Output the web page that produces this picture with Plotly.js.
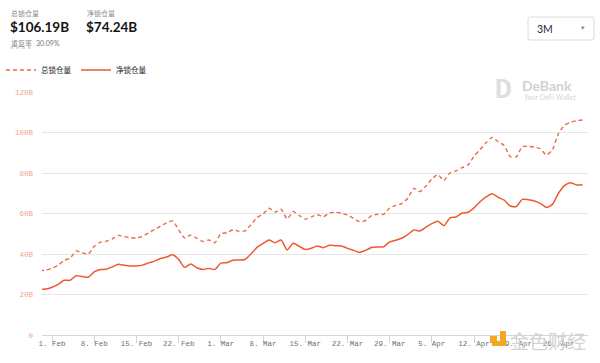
<!DOCTYPE html>
<html>
<head>
<meta charset="utf-8">
<script src="https://cdn.plot.ly/plotly-3.0.1.min.js"></script>
<style>
  html, body { margin: 0; padding: 0; background: #fff; }
  #chart { width: 600px; height: 363px; }
</style>
</head>
<body>
<div id="chart"></div>
<script>
// ---- data (daily, starting 2021-01-30) ----
const startDate = '2021-01-30';
const totalLocked = [
  31.8, 32.1, 33.0, 34.4, 36.8, 37.9, 41.5, 40.6, 40.0, 43.8,
  45.8, 46.3, 47.5, 49.2, 48.6, 48.0, 47.9, 48.8, 50.4, 52.1,
  53.8, 55.4, 56.3, 52.0, 47.9, 49.3, 47.8, 46.2, 46.9, 45.6,
  50.0, 50.5, 52.0, 51.2, 51.4, 54.5, 58.0, 59.7, 62.6, 60.7,
  62.1, 57.3, 61.0, 59.0, 57.2, 58.3, 59.4, 58.4, 60.3, 60.6,
  60.2, 59.2, 57.6, 56.0, 56.5, 59.0, 59.6, 59.6, 62.7, 64.0,
  64.9, 67.5, 72.4, 70.8, 73.5, 77.0, 79.2, 76.3, 80.0, 81.0,
  82.6, 84.0, 88.3, 91.5, 95.0, 97.6, 95.4, 93.6, 88.1, 88.0,
  93.0, 93.1, 92.8, 92.0, 88.9, 91.5, 99.5, 103.5, 105.0, 105.8,
  106.19
];
const netLocked = [
  22.6, 22.7, 23.6, 25.0, 27.0, 27.0, 29.3, 28.9, 28.5, 31.2,
  32.3, 32.5, 33.6, 34.9, 34.4, 34.1, 34.1, 34.5, 35.6, 36.5,
  37.8, 38.5, 39.6, 37.3, 33.4, 35.1, 33.2, 32.4, 32.9, 32.4,
  35.5, 35.7, 36.9, 37.0, 37.3, 40.0, 43.3, 45.2, 46.9, 45.6,
  46.9, 42.0, 45.3, 43.8, 42.2, 42.8, 44.0, 43.1, 44.3, 44.1,
  44.0, 42.8, 41.8, 40.8, 41.8, 43.2, 43.5, 43.6, 46.0, 46.8,
  47.8, 49.6, 51.9, 51.4, 53.2, 55.0, 56.2, 54.0, 57.8, 58.3,
  60.1, 60.6, 62.8, 65.8, 68.2, 69.8, 68.0, 66.6, 63.7, 63.4,
  67.0, 66.8, 66.2, 65.0, 63.0, 64.5, 70.0, 73.8, 75.2, 74.1,
  74.24
];
const tickDates = ['2021-02-01','2021-02-08','2021-02-15','2021-02-22','2021-03-01','2021-03-08',
  '2021-03-15','2021-03-22','2021-03-29','2021-04-05','2021-04-12','2021-04-19','2021-04-26'];
const tickLabels = ['1. Feb','8. Feb','15. Feb','22. Feb','1. Mar','8. Mar',
  '15. Mar','22. Mar','29. Mar','5. Apr','12. Apr','19. Apr','26. Apr'];
const yTickVals = [0, 20, 40, 60, 80, 100, 120];
const yTickLabels = ['0', '20B', '40B', '60B', '80B', '100B', '120B'];
const seriesNames = ['总锁仓量', '净锁仓量'];

// build daily date strings
const dates = [];
{
  const d0 = new Date(startDate + 'T00:00:00Z');
  for (let i = 0; i < totalLocked.length; i++) {
    const d = new Date(d0.getTime() + i * 86400000);
    dates.push(d.toISOString().slice(0, 10));
  }
}

// ---- layout helpers (pixel -> paper) ----
const W = 600, H = 363, L = 42, R = 12, T = 92, B = 28;
const PW = W - L - R, PH = H - T - B;
const px = x => (x - L) / PW;
const py = y => (H - B - y) / PH;

const CJK = '"Noto Sans CJK SC", "Noto Sans", sans-serif';

const traces = [
  {
    x: dates, y: totalLocked, name: seriesNames[0], type: 'scatter', mode: 'lines',
    line: { color: '#ee6a47', width: 1.4, dash: '4px,3px', shape: 'spline', smoothing: 0.6 },
    hoverinfo: 'skip'
  },
  {
    x: dates, y: netLocked, name: seriesNames[1], type: 'scatter', mode: 'lines',
    line: { color: '#ee5a2e', width: 1.5, shape: 'spline', smoothing: 0.6 },
    hoverinfo: 'skip'
  }
];

const ann = (text, x, y, opts) => Object.assign({
  text, xref: 'paper', yref: 'paper', x: px(x), y: py(y),
  xanchor: 'left', yanchor: 'middle', showarrow: false, borderpad: 0
}, opts);

const layout = {
  width: W, height: H,
  margin: { l: L, r: R, t: T, b: B, pad: 0, autoexpand: false },
  paper_bgcolor: '#ffffff', plot_bgcolor: '#ffffff',
  showlegend: true,
  legend: {
    orientation: 'h', xref: 'container', yref: 'container',
    x: 1 / W, y: (H - 70) / H, xanchor: 'left', yanchor: 'middle',
    font: { family: CJK, size: 7.5, color: '#222' },
    entrywidth: 30, entrywidthmode: 'pixels',
    itemwidth: 30, tracegroupgap: 0, bgcolor: 'rgba(0,0,0,0)', borderwidth: 0
  },
  xaxis: {
    type: 'date',
    range: ['2021-01-30 08:00', '2021-04-30 21:40'],
    tickmode: 'array', tickvals: tickDates, ticktext: tickLabels,
    showgrid: false, zeroline: false,
    showline: true, linecolor: '#ccd6eb', linewidth: 1,
    ticks: 'outside', ticklen: 7, tickcolor: '#ccd6eb', tickwidth: 1,
    ticklabelstandoff: -6,
    tickfont: { family: '"Liberation Mono", monospace', size: 7.5, color: '#707070' },
    fixedrange: true, automargin: false
  },
  yaxis: {
    range: [0, 120],
    tickmode: 'array', tickvals: yTickVals, ticktext: yTickLabels,
    showgrid: true, gridcolor: '#e6e6e6', gridwidth: 1,
    zeroline: false, showline: false, ticks: '',
    ticklabelstandoff: 8,
    tickfont: { family: '"Liberation Mono", monospace', size: 7.5, color: '#f2a58e' },
    fixedrange: true, automargin: false
  },
  shapes: [
    // dropdown box
    { type: 'path', xref: 'paper', yref: 'paper',
      path: `M ${px(530)} ${py(17)} L ${px(592)} ${py(17)} Q ${px(594)} ${py(17)} ${px(594)} ${py(19)} L ${px(594)} ${py(38)} Q ${px(594)} ${py(40)} ${px(592)} ${py(40)} L ${px(530)} ${py(40)} Q ${px(528)} ${py(40)} ${px(528)} ${py(38)} L ${px(528)} ${py(19)} Q ${px(528)} ${py(17)} ${px(530)} ${py(17)} Z`,
      line: { color: '#dcdcdc', width: 1 }, fillcolor: '#ffffff' },
    // dotted underline under 重复率
    { type: 'line', xref: 'paper', yref: 'paper', x0: px(10), x1: px(32), y0: py(48), y1: py(48),
      line: { color: '#aaaaaa', width: 0.8, dash: 'dot' } },
    // jinse logo (orange)
    { type: 'rect', xref: 'paper', yref: 'paper', x0: px(490), x1: px(497), y0: py(336), y1: py(343),
      line: { width: 0 }, fillcolor: '#f5a623' },
    { type: 'path', xref: 'paper', yref: 'paper',
      path: `M ${px(492)} ${py(346)} L ${px(506)} ${py(346)} L ${px(506)} ${py(331)} L ${px(500)} ${py(331)} L ${px(500)} ${py(341)} L ${px(492)} ${py(341)} Z`,
      line: { width: 0 }, fillcolor: '#f5a623' }
  ],
  annotations: [
    ann('总锁仓量', 10, 13, { font: { family: CJK, size: 7, color: '#8c8c8c' } }),
    ann('<b>$106.19B</b>', 9, 27, { font: { family: 'Lato, "Open Sans", sans-serif', size: 13.5, color: '#141414' } }),
    ann('净锁仓量', 86, 13, { font: { family: CJK, size: 7, color: '#8c8c8c' } }),
    ann('<b>$74.24B</b>', 85, 27, { font: { family: 'Lato, "Open Sans", sans-serif', size: 13.5, color: '#141414' } }),
    ann('重复率', 10, 43, { font: { family: CJK, size: 7, color: '#8c8c8c' } }),
    ann('30.09%', 35, 43, { font: { family: 'Lato, sans-serif', size: 7, color: '#777' } }),
    ann('3M', 536, 29, { font: { family: 'Lato, sans-serif', size: 10.5, color: '#1e1e2e' } }),
    ann('▾', 580, 28, { font: { family: 'DejaVu Sans, sans-serif', size: 7, color: '#888' } }),
    // DeBank watermark
    ann('<b>D</b>', 494, 89, { font: { family: 'Roboto, sans-serif', size: 26, color: '#dedede' } }),
    ann('<b>DeBank</b>', 521, 85, { font: { family: 'Lato, sans-serif', size: 14, color: '#d2d2d2' } }),
    ann('Your DeFi Wallet', 523, 97, { font: { family: 'Lato, sans-serif', size: 7, color: '#d5d5d5' } }),
    // Jinse watermark
    ann('金色财经', 509, 340, { font: { family: CJK, size: 19, color: '#d3d3d3' } })
  ]
};

Plotly.newPlot('chart', traces, layout, { displayModeBar: false, staticPlot: true });
</script>
</body>
</html>
